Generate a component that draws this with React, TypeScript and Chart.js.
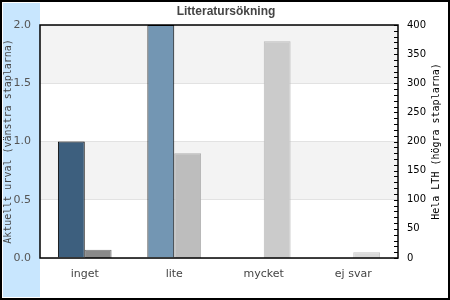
import React, { useEffect, useRef } from "react";
import { Chart, registerables } from "chart.js";

Chart.register(...registerables);

const categories = ["inget", "lite", "mycket", "ej svar"];
const leftValues = [1, 2, 0, 0];
const rightValues = [14, 180, 372, 10];
const leftColors = ["#3d5f7e", "#7396b3", "#a9c0d3", "#c8d6e2"];
const rightColors = ["#898989", "#bdbdbd", "#cbcbcb", "#d9d9d9"];
const rightBorders = ["#777777", "#b0b0b0", "#bbbbbb", "#c4c4c4"];
const titleText = "Litteratursökning";
const leftTitle = "Aktuellt urval (vänstra staplarna)";
const rightTitle = "Hela LTH (högra staplarna)";

const decorPlugin = {
  id: "decor",
  beforeDraw(chart: any) {
    const { ctx, chartArea, scales } = chart;
    const y = scales.y;
    ctx.save();
    ctx.fillStyle = "#ffffff";
    ctx.fillRect(0, 0, chart.width, chart.height);
    ctx.fillStyle = "#c8e6fe";
    ctx.fillRect(3, 3, chartArea.left - 3, 294);
    ctx.fillStyle = "#f3f3f3";
    const bands = [[1.5, 2.0], [0.5, 1.0]];
    for (const [a, b] of bands) {
      const y1 = y.getPixelForValue(b);
      const y2 = y.getPixelForValue(a);
      ctx.fillRect(chartArea.left, y1, chartArea.right - chartArea.left, y2 - y1);
    }
    ctx.restore();
  },
  afterDraw(chart: any) {
    const { ctx, chartArea, scales } = chart;
    const y2 = scales.y2;
    ctx.save();
    // minor/major ticks on right axis, pointing inward
    ctx.strokeStyle = "#000000";
    ctx.lineWidth = 1;
    for (let v = 0; v <= 400; v += 10) {
      const py = Math.round(y2.getPixelForValue(v)) + 0.5;
      ctx.beginPath();
      ctx.moveTo(chartArea.right - 4, py);
      ctx.lineTo(chartArea.right, py);
      ctx.stroke();
    }
    ctx.lineWidth = 1.5;
    ctx.strokeRect(chartArea.left, chartArea.top, chartArea.right - chartArea.left, chartArea.bottom - chartArea.top);
    ctx.lineWidth = 2;
    ctx.strokeRect(1, 1, chart.width - 2, chart.height - 2);
    // title
    ctx.fillStyle = "#444444";
    ctx.font = "bold 12px 'Liberation Sans', Arial, sans-serif";
    ctx.textAlign = "center";
    ctx.textBaseline = "middle";
    ctx.fillText(titleText, chart.width / 2 + 1, 12);
    // right axis title, reading bottom to top
    ctx.fillStyle = "#000000";
    ctx.font = "10px 'DejaVu Sans Mono', monospace";
    ctx.translate(436, (chartArea.top + chartArea.bottom) / 2);
    ctx.rotate(-Math.PI / 2);
    ctx.fillText(rightTitle, 0, 0);
    ctx.restore();
  },
};

export default function App() {
  const ref = useRef<HTMLCanvasElement>(null);
  useEffect(() => {
    document.body.style.margin = "0";
    const chart = new Chart(ref.current as HTMLCanvasElement, {
      type: "bar",
      data: {
        labels: categories,
        datasets: [
          {
            data: leftValues,
            yAxisID: "y",
            backgroundColor: leftColors,
            borderColor: "#000000",
            borderWidth: 1,
          },
          {
            data: rightValues,
            yAxisID: "y2",
            backgroundColor: rightColors,
            borderColor: rightBorders,
            borderWidth: 1,
          },
        ],
      },
      options: {
        responsive: false,
        animation: false,
        layout: { padding: { top: 25, left: 0, right: 0, bottom: 0 } },
        datasets: { bar: { categoryPercentage: 0.6, barPercentage: 1 } },
        plugins: {
          legend: { display: false },
          tooltip: { enabled: false },
          title: { display: false },
        },
        scales: {
          x: {
            grid: { display: false, drawTicks: false },
            border: { display: false },
            ticks: {
              color: "#444444",
              font: { family: "DejaVu Sans", size: 11 },
              padding: 10,
            },
            afterFit(s: any) {
              s.height = 42;
            },
          },
          y: {
            position: "left",
            min: 0,
            max: 2,
            grid: { color: "#e2e2e2", drawTicks: false },
            border: { display: false },
            ticks: {
              stepSize: 0.5,
              color: "#555555",
              font: { family: "DejaVu Sans", size: 11 },
              padding: 9,
              callback: (v: any) => Number(v).toFixed(1),
            },
            title: {
              display: true,
              text: leftTitle,
              color: "#444444",
              font: { family: "DejaVu Sans Mono", size: 10 },
              padding: { top: 2, bottom: 0 },
            },
            afterFit(s: any) {
              s.width = 40;
            },
          },
          y2: {
            position: "right",
            min: 0,
            max: 400,
            grid: { display: false, drawTicks: false },
            border: { display: false },
            ticks: {
              stepSize: 50,
              color: "#000000",
              font: { family: "DejaVu Sans", size: 10 },
              padding: 9,
            },
            afterFit(s: any) {
              s.width = 52;
            },
          },
        },
      },
      plugins: [decorPlugin],
    } as any);
    return () => chart.destroy();
  }, []);
  return <canvas ref={ref} width={450} height={300} style={{ display: "block" }} />;
}
